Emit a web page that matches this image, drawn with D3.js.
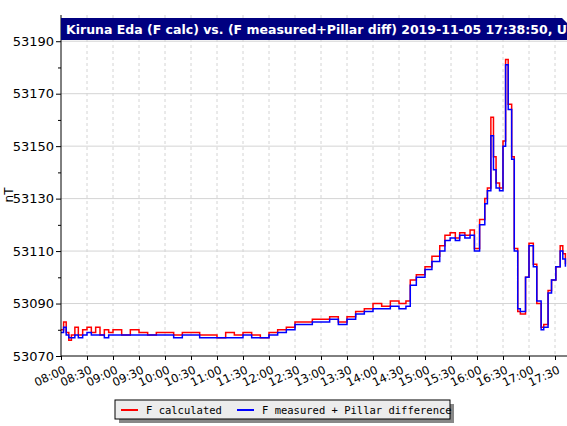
<!DOCTYPE html>
<html><head><meta charset="utf-8">
<script src="https://cdn.jsdelivr.net/npm/d3@7"></script>
<style>body{margin:0;background:#fff}svg{display:block}</style>
</head><body><svg id="c" width="567" height="426"></svg>
<script>
// times as HH:MM, values in nT
const times = ["08:00","08:03","08:06","08:09","08:12","08:16","08:20","08:25","08:30","08:35","08:40","08:45","08:50","08:55","09:00","09:10","09:20","09:30","09:40","09:50","10:00","10:10","10:20","10:30","10:40","10:50","11:00","11:10","11:20","11:30","11:40","11:50","12:00","12:10","12:20","12:30","12:40","12:50","13:00","13:10","13:20","13:30","13:40","13:50","14:00","14:10","14:20","14:30","14:38","14:43","14:50","15:00","15:08","15:17","15:23","15:29","15:35","15:40","15:46","15:52","15:57","16:03","16:09","16:12","16:16","16:19","16:22","16:26","16:30","16:33","16:36","16:40","16:43","16:47","16:50","16:56","17:00","17:05","17:09","17:14","17:17","17:22","17:26","17:31","17:36","17:39","17:42"];
const fCalc = [53080,53083,53079,53076,53078,53081,53078,53080,53081,53079,53081,53078,53080,53079,53080,53078,53080,53079,53078,53079,53079,53078,53079,53079,53078,53078,53077,53079,53078,53079,53078,53077,53079,53080,53081,53083,53083,53084,53084,53085,53083,53085,53087,53088,53090,53089,53091,53090,53091,53099,53101,53104,53108,53112,53116,53117,53115,53117,53116,53118,53111,53122,53130,53134,53161,53146,53136,53134,53152,53183,53166,53146,53111,53087,53086,53100,53113,53105,53090,53081,53082,53095,53099,53104,53112,53109,53105];
const fMeas = [53079,53081,53078,53077,53077,53078,53077,53078,53079,53078,53078,53078,53077,53078,53078,53078,53078,53078,53078,53078,53078,53077,53078,53078,53077,53077,53077,53077,53077,53078,53077,53077,53078,53079,53080,53082,53082,53083,53083,53084,53082,53084,53086,53087,53088,53088,53089,53088,53089,53097,53100,53103,53106,53110,53114,53115,53114,53116,53115,53116,53110,53120,53128,53133,53154,53141,53134,53133,53150,53181,53164,53145,53110,53088,53087,53100,53112,53104,53091,53080,53081,53094,53099,53104,53110,53107,53104];
const yTicks = [53070,53090,53110,53130,53150,53170,53190];
const xTickLabels = ["08:00","08:30","09:00","09:30","10:00","10:30","11:00","11:30","12:00","12:30","13:00","13:30","14:00","14:30","15:00","15:30","16:00","16:30","17:00","17:30"];
const series = [
  {name:"F calculated", color:"#ff0000", values:fCalc},
  {name:"F measured + Pillar difference", color:"#0000ff", values:fMeas}
];

const svg = d3.select("#c");
const pL = 61, pR = 568, pT = 15, pB = 356;
const toMin = s => { const [h,m] = s.split(":").map(Number); return h*60+m-480; };
const x = d3.scaleLinear().domain([0, 585]).range([pL, pR]);
const y = d3.scaleLinear().domain([53070, 53200]).range([pB, pT]);

// grid
svg.append("g").selectAll("line").data(xTickLabels.slice(1)).join("line")
  .attr("x1", d => x(toMin(d))).attr("x2", d => x(toMin(d)))
  .attr("y1", pT).attr("y2", pB)
  .attr("stroke", "#d4d4d4").attr("stroke-dasharray", "3,3");
svg.append("g").selectAll("line").data(yTicks.slice(1)).join("line")
  .attr("x1", pL).attr("x2", pR).attr("y1", d => y(d)).attr("y2", d => y(d))
  .attr("stroke", "#d4d4d4");

// lines
svg.append("clipPath").attr("id", "pc").append("rect")
  .attr("x", pL).attr("y", pT).attr("width", pR-pL).attr("height", pB-pT);
const line = d3.line().x((d,i) => x(toMin(times[i]))).y(d => y(d)).curve(d3.curveStepAfter);
svg.append("g").attr("clip-path", "url(#pc)").selectAll("path").data(series).join("path")
  .attr("d", d => line(d.values)).attr("fill", "none")
  .attr("stroke", d => d.color).attr("stroke-width", 1.5);

// axes
const ya = svg.append("g").attr("transform", `translate(${pL},0)`)
  .call(d3.axisLeft(y).tickValues(d3.range(53070, 53200, 10)).tickSize(4).tickFormat(d => yTicks.includes(d) ? d : ""));
ya.selectAll("text").attr("font-family", "DejaVu Sans").attr("font-size", 13).attr("fill", "#000");
ya.selectAll(".tick line").attr("x2", d => yTicks.includes(d) ? -5 : -3);
ya.select(".domain").attr("d", `M0,${pT}V${pB}`);
const xa = svg.append("g").attr("transform", `translate(0,${pB})`)
  .call(d3.axisBottom(x).tickValues(xTickLabels.map(toMin)).tickSize(4).tickFormat((d,i) => xTickLabels[i]));
xa.selectAll("text").attr("font-family", "DejaVu Sans").attr("font-size", 11.5).attr("fill", "#000")
  .attr("text-anchor", "end").attr("transform", "rotate(-25)").attr("dx", "-0.2em").attr("dy", "0.9em");
xa.select(".domain").attr("d", `M${pL},0H${pR}`);
svg.append("text").attr("transform", "translate(13,195) rotate(-90)").attr("text-anchor", "middle")
  .attr("font-family", "DejaVu Sans").attr("font-size", 12).text("nT");

// title bar
svg.append("path").attr("d", `M61,18H562L567,23V40H61Z`).attr("fill", "#000080");
svg.append("text").attr("x", 66).attr("y", 34).attr("fill", "#fff").attr("font-weight", "bold")
  .attr("font-family", "DejaVu Sans").attr("font-size", 12.5)
  .text("Kiruna Eda (F calc) vs. (F measured+Pillar diff) 2019-11-05 17:38:50, UTC");

// legend
const lg = svg.append("g");
lg.append("rect").attr("x", 119).attr("y", 404).attr("width", 335).attr("height", 19).attr("fill", "#888");
lg.append("rect").attr("x", 115).attr("y", 400).attr("width", 335).attr("height", 19)
  .attr("fill", "#ececec").attr("stroke", "#000");
const li = lg.selectAll("g.it").data(series).join("g").attr("class", "it")
  .attr("transform", (d,i) => `translate(${i ? 237 : 121},410)`);
li.append("line").attr("x1", 0).attr("x2", 17).attr("stroke", d => d.color).attr("stroke-width", 2);
li.append("text").attr("x", 25).attr("y", 4).attr("font-family", "DejaVu Sans Mono").attr("font-size", 10.5)
  .text(d => d.name);
</script></body></html>
